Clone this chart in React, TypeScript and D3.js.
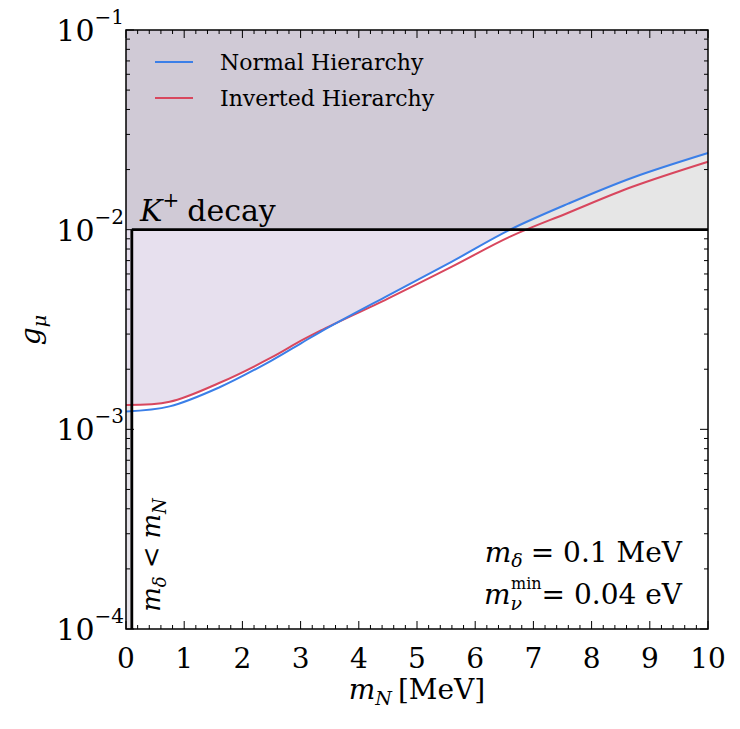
import React from "react";
import * as d3 from "d3";

// heavy neutrino mass grid [MeV] and coupling bounds for the two orderings
const massN = [0, 0.75, 1.6, 2.5, 3, 3.35, 4.5, 5.6, 6.6, 7.6, 8.7, 10];
const normalH = [1.227e-3, 1.303e-3, 1.62e-3, 2.21e-3, 2.69e-3, 3.09e-3, 4.68e-3, 6.92e-3, 1.0e-2, 1.35e-2, 1.82e-2, 2.42e-2];
const invertedH = [1.324e-3, 1.374e-3, 1.706e-3, 2.29e-3, 2.77e-3, 3.13e-3, 4.52e-3, 6.53e-3, 9.23e-3, 1.216e-2, 1.64e-2, 2.19e-2];

const kaonLimit = 1e-2;
const mDelta = 0.1;
const xTicks = [0, 1, 2, 3, 4, 5, 6, 7, 8, 9, 10];
const yExponents = [-4, -3, -2, -1];

const W = 740;
const H = 729;
const margin = { left: 126, right: 32, top: 30, bottom: 100 };
const FONT = "'DejaVu Serif', 'Liberation Serif', serif";
const BLUE = "#3b7fe8";
const RED = "#d8475e";

const App = () => {
  const x = d3
    .scaleLinear()
    .domain([0, 10])
    .range([margin.left, W - margin.right]);
  const y = d3
    .scaleLog()
    .domain([1e-4, 1e-1])
    .range([H - margin.bottom, margin.top]);

  const x0 = x.range()[0];
  const x1 = x.range()[1];
  const yTop = y.range()[1];
  const yBot = y.range()[0];

  const points = massN.map((m, i) => ({ m, nh: normalH[i], ih: invertedH[i] }));

  // excluded region sits above whichever bound is larger
  const excluded = d3
    .area<any>()
    .x(d => x(d.m))
    .y0(yTop)
    .y1(d => y(Math.max(d.nh, d.ih)))
    .curve(d3.curveCatmullRom.alpha(0.5));

  const lineNH = d3
    .line<any>()
    .x(d => x(d.m))
    .y(d => y(d.nh))
    .curve(d3.curveCatmullRom.alpha(0.5));
  const lineIH = d3
    .line<any>()
    .x(d => x(d.m))
    .y(d => y(d.ih))
    .curve(d3.curveCatmullRom.alpha(0.5));

  const xMinor = d3.range(0, 10.001, 0.2).filter(v => Math.abs(v - Math.round(v)) > 1e-6);
  const yMinor: number[] = [];
  [-4, -3, -2].forEach(e => {
    for (let k = 2; k <= 9; k++) yMinor.push(k * Math.pow(10, e));
  });

  const yKaon = y(kaonLimit);

  return (
    <svg
      width={W}
      height={H}
      style={{ position: "absolute", left: 0, top: 0, background: "#fff" }}
      fontFamily={FONT}
    >
      <defs>
        <clipPath id="aboveKaon">
          <rect x={x0} y={yTop} width={x1 - x0} height={yKaon - yTop} />
        </clipPath>
        <clipPath id="belowKaon">
          <rect x={x0} y={yKaon} width={x1 - x0} height={yBot - yKaon} />
        </clipPath>
      </defs>

      {/* K+ decay bound and the m_delta < m_N strip */}
      <rect x={x0} y={yTop} width={x1 - x0} height={yKaon - yTop} fill="#e6e6e6" />
      <rect x={x0} y={yTop} width={x(mDelta) - x0} height={yBot - yTop} fill="#e6e4ea" />

      <path d={excluded(points) as string} fill="#e7e0ee" clipPath="url(#belowKaon)" />
      <path d={excluded(points) as string} fill="#d0cad6" clipPath="url(#aboveKaon)" />

      <path d={lineIH(points) as string} fill="none" stroke={RED} strokeWidth={2} />
      <path d={lineNH(points) as string} fill="none" stroke={BLUE} strokeWidth={2} />

      <line x1={x(mDelta)} x2={x1} y1={yKaon} y2={yKaon} stroke="#000" strokeWidth={2.8} />
      <line x1={x(mDelta)} x2={x(mDelta)} y1={yKaon} y2={yBot} stroke="#000" strokeWidth={2.8} />

      {/* frame */}
      <rect x={x0} y={yTop} width={x1 - x0} height={yBot - yTop} fill="none" stroke="#000" strokeWidth={1.5} />

      {/* ticks, drawn inward on all four sides */}
      <g stroke="#000" strokeWidth={1}>
        {xTicks.map(t => (
          <g key={`xt${t}`}>
            <line x1={x(t)} x2={x(t)} y1={yBot} y2={yBot - 8} />
            <line x1={x(t)} x2={x(t)} y1={yTop} y2={yTop + 8} />
          </g>
        ))}
        {xMinor.map(t => (
          <g key={`xm${t}`}>
            <line x1={x(t)} x2={x(t)} y1={yBot} y2={yBot - 4} />
            <line x1={x(t)} x2={x(t)} y1={yTop} y2={yTop + 4} />
          </g>
        ))}
        {yExponents.map(e => (
          <g key={`yt${e}`}>
            <line x1={x0} x2={x0 + 8} y1={y(Math.pow(10, e))} y2={y(Math.pow(10, e))} />
            <line x1={x1} x2={x1 - 8} y1={y(Math.pow(10, e))} y2={y(Math.pow(10, e))} />
          </g>
        ))}
        {yMinor.map(v => (
          <g key={`ym${v}`}>
            <line x1={x0} x2={x0 + 4} y1={y(v)} y2={y(v)} />
            <line x1={x1} x2={x1 - 4} y1={y(v)} y2={y(v)} />
          </g>
        ))}
      </g>

      {/* tick labels */}
      {xTicks.map(t => (
        <text key={`xl${t}`} x={x(t)} y={yBot + 39} textAnchor="middle" fontSize={28}>
          {t}
        </text>
      ))}
      {yExponents.map(e => (
        <text key={`yl${e}`} x={x0 - 2} y={y(Math.pow(10, e)) + 11} textAnchor="end" fontSize={30}>
          10
          <tspan fontSize={20} dy={-17}>
            {`\u2212${-e}`}
          </tspan>
        </text>
      ))}

      {/* axis titles */}
      <text x={(x0 + x1) / 2} y={H - 30} textAnchor="middle" fontSize={28}>
        <tspan fontStyle="italic">m</tspan>
        <tspan fontStyle="italic" fontSize={19} dy={6}>N</tspan>
        <tspan dy={-6} dx={6}>[MeV]</tspan>
      </text>
      <text transform={`translate(40, 330) rotate(-90)`} textAnchor="middle" fontSize={28}>
        <tspan fontStyle="italic">g</tspan>
        <tspan fontStyle="italic" fontSize={19} dy={6}>μ</tspan>
      </text>

      {/* region labels */}
      <text x={x0 + 14} y={yKaon - 9} fontSize={30}>
        <tspan fontStyle="italic">K</tspan>
        <tspan fontSize={20} dy={-14}>+</tspan>
        <tspan dy={14} dx={8}>decay</tspan>
      </text>
      <text transform={`translate(160, 555) rotate(-90)`} textAnchor="middle" fontSize={26}>
        <tspan fontStyle="italic">m</tspan>
        <tspan fontStyle="italic" fontSize={18} dy={6}>δ</tspan>
        <tspan dy={-6} dx={8}>&lt;</tspan>
        <tspan fontStyle="italic" dx={8}>m</tspan>
        <tspan fontStyle="italic" fontSize={18} dy={6}>N</tspan>
      </text>

      <text x={682} y={562} textAnchor="end" fontSize={28}>
        <tspan fontStyle="italic">m</tspan>
        <tspan fontStyle="italic" fontSize={19} dy={5}>δ</tspan>
        <tspan dy={-5} dx={8}>= 0.1 MeV</tspan>
      </text>
      <text x={682} y={604} textAnchor="end" fontSize={28}>
        <tspan fontStyle="italic">m</tspan>
        <tspan fontStyle="italic" fontSize={19} dy={6}>ν</tspan>
        <tspan fontSize={16} dy={-21} dx={-11}>min</tspan>
        <tspan dy={15}>= 0.04 eV</tspan>
      </text>

      {/* legend */}
      <g fontSize={22}>
        <line x1={155} x2={193} y1={62} y2={62} stroke={BLUE} strokeWidth={2} />
        <text x={220} y={70}>Normal Hierarchy</text>
        <line x1={155} x2={193} y1={98} y2={98} stroke={RED} strokeWidth={2} />
        <text x={220} y={106}>Inverted Hierarchy</text>
      </g>
    </svg>
  );
};

export default App;
